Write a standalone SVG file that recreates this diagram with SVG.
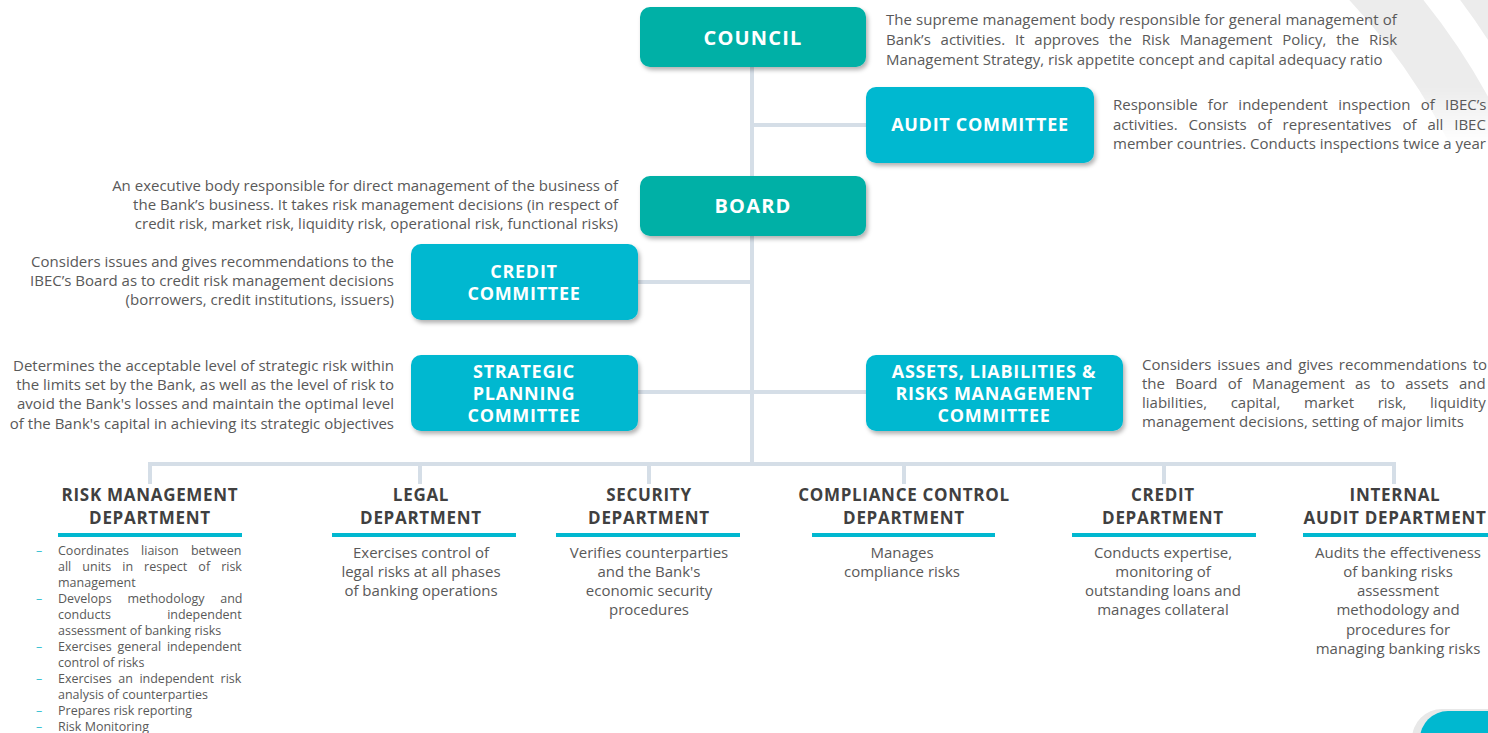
<svg xmlns="http://www.w3.org/2000/svg" width="1488" height="733" viewBox="0 0 1488 733">
  <style>
    text { font-family: "Open Sans", "Noto Sans", "DejaVu Sans", sans-serif; }
    .box-title { font-size: 20px; font-weight: 700; fill: #ffffff; letter-spacing: 1.2px; text-anchor: middle; }
    .cmt-title { font-size: 18px; font-weight: 700; fill: #ffffff; letter-spacing: 0.7px; text-anchor: middle; }
    .dept-title { font-size: 17px; font-weight: 700; fill: #404040; letter-spacing: 0.7px; text-anchor: middle; }
    .desc { font-size: 15px; fill: #595959; }
    .right { text-anchor: end; }
    .mid { text-anchor: middle; }
    .list { font-size: 12.5px; fill: #595959; }
    .dash { font-size: 12.5px; fill: #3cc3d4; }
    .teal { fill: #00b0a6; }
    .cyan { fill: #00b8d0; }
    .bar { fill: #00b8d0; }
    .conn { stroke: #d5dee7; stroke-width: 4; fill: none; }
    .deco { fill: none; stroke: #ececec; }
  </style>
  <defs>
    <filter id="shadow" x="-10%" y="-10%" width="125%" height="135%">
      <feDropShadow dx="2" dy="3" stdDeviation="2" flood-color="#000000" flood-opacity="0.3"/>
    </filter>
    <linearGradient id="fade" x1="0" y1="0" x2="0" y2="1">
      <stop offset="0" stop-color="#fff"/>
      <stop offset="0.6" stop-color="#fff"/>
      <stop offset="1" stop-color="#fff" stop-opacity="0"/>
    </linearGradient>
    <mask id="corner">
      <rect x="1330" y="0" width="158" height="145" fill="url(#fade)"/>
    </mask>
  </defs>

  <!-- decorative arcs, top right -->
  <g id="decoration" mask="url(#corner)">
    <circle class="deco" cx="900" cy="420" r="643" stroke-width="56"/>
    <circle class="deco" cx="900" cy="420" r="730" stroke-width="60"/>
  </g>

  <!-- connectors -->
  <g id="connectors">
    <line class="conn" x1="752" y1="66" x2="752" y2="466"/>
    <line class="conn" x1="752" y1="125" x2="867" y2="125"/>
    <line class="conn" x1="637" y1="282" x2="752" y2="282"/>
    <line class="conn" x1="637" y1="392" x2="867" y2="392"/>
    <polyline class="conn" points="150,484 150,464 1394,464 1394,484"/>
    <line class="conn" x1="420" y1="464" x2="420" y2="484"/>
    <line class="conn" x1="649" y1="464" x2="649" y2="484"/>
    <line class="conn" x1="904" y1="464" x2="904" y2="484"/>
    <line class="conn" x1="1164" y1="464" x2="1164" y2="484"/>
  </g>

  <!-- governing bodies -->
  <g id="council">
    <rect class="teal" x="640" y="7" width="226" height="60" rx="10" filter="url(#shadow)"/>
    <text class="box-title" x="753" y="45">COUNCIL</text>
    <text class="desc" x="886" y="25" style="word-spacing:0.25px">The supreme management body responsible for general management of</text>
    <text class="desc" x="886" y="45" style="word-spacing:5.9px">Bank’s activities. It approves the Risk Management Policy, the Risk</text>
    <text class="desc" x="886" y="65">Management Strategy, risk appetite concept and capital adequacy ratio</text>
  </g>

  <g id="audit-committee">
    <rect class="cyan" x="866" y="87" width="228" height="76" rx="10" filter="url(#shadow)"/>
    <text class="cmt-title" x="980" y="131">AUDIT COMMITTEE</text>
    <text class="desc" x="1113" y="110" style="word-spacing:6.4px">Responsible for independent inspection of IBEC’s</text>
    <text class="desc" x="1113" y="130" style="word-spacing:7px">activities. Consists of representatives of all IBEC</text>
    <text class="desc" x="1113" y="149">member countries. Conducts inspections twice a year</text>
  </g>

  <g id="board">
    <rect class="teal" x="640" y="176" width="226" height="60" rx="10" filter="url(#shadow)"/>
    <text class="box-title" x="753" y="213">BOARD</text>
    <text class="desc right" x="618" y="191">An executive body responsible for direct management of the business of</text>
    <text class="desc right" x="618" y="210">the Bank’s business. It takes risk management decisions (in respect of</text>
    <text class="desc right" x="618" y="229">credit risk, market risk, liquidity risk, operational risk, functional risks)</text>
  </g>

  <g id="credit-committee">
    <rect class="cyan" x="411" y="244" width="227" height="76" rx="10" filter="url(#shadow)"/>
    <text class="cmt-title" x="524" y="278">CREDIT</text>
    <text class="cmt-title" x="524" y="300">COMMITTEE</text>
    <text class="desc right" x="394" y="267">Considers issues and gives recommendations to the</text>
    <text class="desc right" x="394" y="286">IBEC’s Board as to credit risk management decisions</text>
    <text class="desc right" x="394" y="305">(borrowers, credit institutions, issuers)</text>
  </g>

  <g id="strategic-planning-committee">
    <rect class="cyan" x="411" y="355" width="227" height="76" rx="10" filter="url(#shadow)"/>
    <text class="cmt-title" x="524" y="378">STRATEGIC</text>
    <text class="cmt-title" x="524" y="400">PLANNING</text>
    <text class="cmt-title" x="524" y="422">COMMITTEE</text>
    <text class="desc right" x="394" y="371">Determines the acceptable level of strategic risk within</text>
    <text class="desc right" x="394" y="390">the limits set by the Bank, as well as the level of risk to</text>
    <text class="desc right" x="394" y="409">avoid the Bank's losses and maintain the optimal level</text>
    <text class="desc right" x="394" y="429">of the Bank's capital in achieving its strategic objectives</text>
  </g>

  <g id="alrm-committee">
    <rect class="cyan" x="866" y="355" width="257" height="76" rx="10" filter="url(#shadow)"/>
    <text class="cmt-title" x="994" y="378">ASSETS, LIABILITIES &amp;</text>
    <text class="cmt-title" x="994" y="400">RISKS MANAGEMENT</text>
    <text class="cmt-title" x="994" y="422">COMMITTEE</text>
    <text class="desc" x="1142" y="370" style="word-spacing:1.8px">Considers issues and gives recommendations to</text>
    <text class="desc" x="1142" y="389" style="word-spacing:6.3px">the Board of Management as to assets and</text>
    <text class="desc" x="1142" y="408" style="word-spacing:19.7px">liabilities, capital, market risk, liquidity</text>
    <text class="desc" x="1142" y="427">management decisions, setting of major limits</text>
  </g>

  <!-- departments -->
  <g id="risk-management-department">
    <text class="dept-title" x="150" y="501">RISK MANAGEMENT</text>
    <text class="dept-title" x="150" y="524">DEPARTMENT</text>
    <rect class="bar" x="58" y="533" width="184" height="4"/>
    <text class="dash" x="36" y="555">–</text>
    <text class="list" x="58" y="555" style="word-spacing:9px">Coordinates liaison between</text>
    <text class="list" x="58" y="571" style="word-spacing:7.8px">all units in respect of risk</text>
    <text class="list" x="58" y="587">management</text>
    <text class="dash" x="36" y="603">–</text>
    <text class="list" x="58" y="603" style="word-spacing:12.5px">Develops methodology and</text>
    <text class="list" x="58" y="619" style="word-spacing:53px">conducts independent</text>
    <text class="list" x="58" y="635">assessment of banking risks</text>
    <text class="dash" x="36" y="651">–</text>
    <text class="list" x="58" y="651" style="word-spacing:2.5px">Exercises general independent</text>
    <text class="list" x="58" y="667">control of risks</text>
    <text class="dash" x="36" y="683">–</text>
    <text class="list" x="58" y="683" style="word-spacing:3.3px">Exercises an independent risk</text>
    <text class="list" x="58" y="699">analysis of counterparties</text>
    <text class="dash" x="36" y="715">–</text>
    <text class="list" x="58" y="715">Prepares risk reporting</text>
    <text class="dash" x="36" y="731">–</text>
    <text class="list" x="58" y="731">Risk Monitoring</text>
  </g>

  <g id="legal-department">
    <text class="dept-title" x="421" y="501">LEGAL</text>
    <text class="dept-title" x="421" y="524">DEPARTMENT</text>
    <rect class="bar" x="332" y="533" width="184" height="4"/>
    <text class="desc mid" x="421" y="558">Exercises control of</text>
    <text class="desc mid" x="421" y="577">legal risks at all phases</text>
    <text class="desc mid" x="421" y="596">of banking operations</text>
  </g>

  <g id="security-department">
    <text class="dept-title" x="649" y="501">SECURITY</text>
    <text class="dept-title" x="649" y="524">DEPARTMENT</text>
    <rect class="bar" x="556" y="533" width="184" height="4"/>
    <text class="desc mid" x="649" y="558">Verifies counterparties</text>
    <text class="desc mid" x="649" y="577">and the Bank's</text>
    <text class="desc mid" x="649" y="596">economic security</text>
    <text class="desc mid" x="649" y="615">procedures</text>
  </g>

  <g id="compliance-control-department">
    <text class="dept-title" x="904" y="501">COMPLIANCE CONTROL</text>
    <text class="dept-title" x="904" y="524">DEPARTMENT</text>
    <rect class="bar" x="812" y="533" width="183" height="4"/>
    <text class="desc mid" x="902" y="558">Manages</text>
    <text class="desc mid" x="902" y="577">compliance risks</text>
  </g>

  <g id="credit-department">
    <text class="dept-title" x="1163" y="501">CREDIT</text>
    <text class="dept-title" x="1163" y="524">DEPARTMENT</text>
    <rect class="bar" x="1072" y="533" width="184" height="4"/>
    <text class="desc mid" x="1163" y="558">Conducts expertise,</text>
    <text class="desc mid" x="1163" y="577">monitoring of</text>
    <text class="desc mid" x="1163" y="596">outstanding loans and</text>
    <text class="desc mid" x="1163" y="615">manages collateral</text>
  </g>

  <g id="internal-audit-department">
    <text class="dept-title" x="1395" y="501">INTERNAL</text>
    <text class="dept-title" x="1395" y="524">AUDIT DEPARTMENT</text>
    <rect class="bar" x="1303" y="533" width="185" height="4"/>
    <text class="desc mid" x="1398" y="558">Audits the effectiveness</text>
    <text class="desc mid" x="1398" y="577">of banking risks</text>
    <text class="desc mid" x="1398" y="596">assessment</text>
    <text class="desc mid" x="1398" y="615">methodology and</text>
    <text class="desc mid" x="1398" y="635">procedures for</text>
    <text class="desc mid" x="1398" y="654">managing banking risks</text>
  </g>

  <!-- page tab, bottom right -->
  <g id="page-tab">
    <rect x="1412" y="709" width="120" height="70" rx="30" fill="#e8e8e8"/>
    <rect x="1420" y="711" width="120" height="70" rx="28" fill="#00b8d0"/>
  </g>
</svg>
